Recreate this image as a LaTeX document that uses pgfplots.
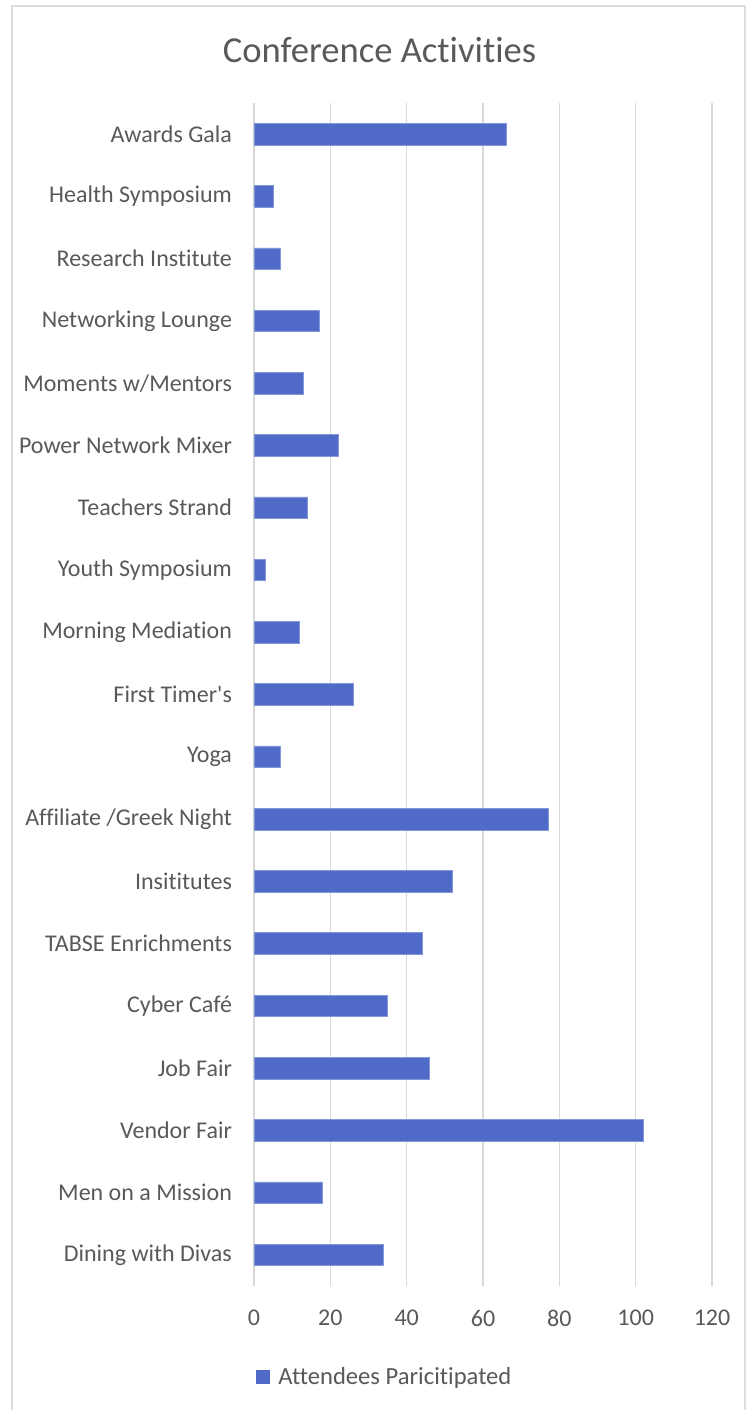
\documentclass[border=0pt]{standalone}
\usepackage{fontspec}
\newfontfamily\cf{Carlito}[RawFeature={-liga;-clig;-calt;-dlig}]
\usepackage{pgfplots}
\pgfplotsset{compat=1.18}
\definecolor{barblue}{RGB}{79,106,199}
\definecolor{txt}{RGB}{89,89,89}
\definecolor{gridc}{RGB}{217,217,217}
\begin{document}
\begin{tikzpicture}
\useasboundingbox (0pt,0pt) rectangle (375.5pt,705pt);
\draw[gridc!90!white, line width=1pt] (6pt,-4pt) rectangle (372.5pt,702pt);
\begin{axis}[
  at={(127pt,62pt)}, anchor=south west,
  scale only axis,
  width=229pt, height=591.5pt,
  xbar, bar width=10.8pt,
  xmin=0, xmax=120,
  ymin=-0.5, ymax=18.5,
  xtick={0,20,...,120},
  ytick={0,...,18},
  yticklabels={Dining with Divas, Men on a Mission, Vendor Fair, Job Fair, Cyber Café, TABSE Enrichments, Insititutes, Affiliate /Greek Night, Yoga, First Timer's, Morning Mediation, Youth Symposium, Teachers Strand, Power Network Mixer, Moments w/Mentors, Networking Lounge, Research Institute, Health Symposium, Awards Gala},
  axis line style={draw=none},
  major tick length=0pt,
  xmajorgrids, grid style={gridc, line width=0.75pt},
  /pgf/number format/assume math mode=true,
  tick label style={font=\cf\fontsize{12}{14}\selectfont, text=txt},
  xticklabel style={yshift=-8.5pt},
  yticklabel style={xshift=-7.5pt},
  title={Conference Activities},
  title style={at={(axis description cs:0.274,1.0448)}, anchor=center, yshift=-6pt, font=\cf\fontsize{18.3}{21}\selectfont, text=txt},
  legend style={at={(axis description cs:0.288,-0.0769)}, anchor=center, draw=none, font=\cf\fontsize{12.3}{14}\selectfont, text=txt},
  legend image code/.code={\path[draw=none,fill=none] (0pt,0pt) -- (9pt,0pt); \fill[barblue,draw=none] (0pt,-3.5pt) rectangle (7pt,3.5pt);},
]
\addplot[fill=barblue, draw=barblue!70!white, line width=0.3pt] coordinates {
(34,0) (18,1) (102,2) (46,3) (35,4) (44,5) (52,6) (77,7) (7,8) (26,9) (12,10) (3,11) (14,12) (22,13) (13,14) (17,15) (7,16) (5,17) (66,18)
};
\addlegendentry{Attendees Paricitipated}
\end{axis}
\end{tikzpicture}
\end{document}
